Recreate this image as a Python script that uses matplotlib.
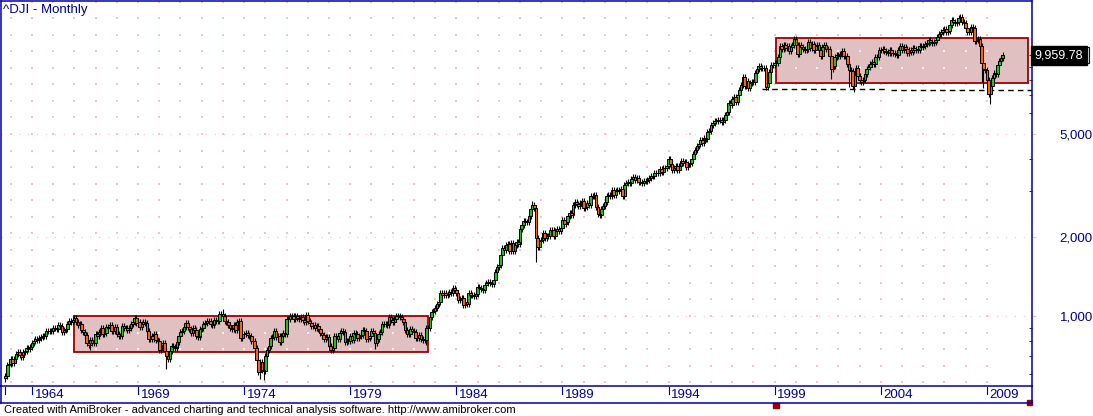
import numpy as np
import pandas as pd
import matplotlib
matplotlib.use("Agg")
import matplotlib.pyplot as plt
import matplotlib.transforms as mtransforms
from matplotlib.patches import Rectangle
from matplotlib.lines import Line2D
from matplotlib.ticker import FixedLocator, NullFormatter

plt.rcParams['font.family'] = ['Liberation Sans', 'DejaVu Sans']

# ---- data: DJI monthly closes, Oct 1962 .. Oct 2009 ----
first_month = "1962-10"
first_open = 578.98
closes = [
	589.77, 649.30, 652.10,
	682.85, 662.94, 682.52, 717.70, 726.96, 706.88, 695.43, 729.32, 732.79, 755.23, 750.52, 762.95,
	785.34, 800.14, 813.29, 810.77, 820.56, 831.50, 841.10, 838.48, 875.37, 873.08, 875.43, 874.13,
	902.86, 903.48, 889.05, 922.31, 918.04, 868.03, 881.74, 893.10, 930.58, 960.82, 946.71, 969.26,
	983.51, 951.89, 924.77, 933.68, 884.07, 870.10, 847.38, 788.41, 774.22, 807.07, 791.59, 785.69,
	849.89, 839.37, 865.98, 897.05, 852.56, 860.26, 904.24, 901.29, 926.66, 879.74, 875.81, 905.11,
	855.47, 840.50, 840.67, 912.22, 899.00, 897.80, 883.00, 896.01, 935.79, 952.39, 985.08, 943.75,
	946.05, 905.21, 935.48, 950.18, 937.56, 873.19, 815.47, 836.72, 813.09, 855.99, 812.30, 800.36,
	744.06, 777.59, 785.57, 736.07, 700.44, 683.53, 734.12, 764.58, 760.68, 755.61, 794.09, 838.92,
	868.50, 878.83, 904.37, 941.75, 907.81, 891.14, 858.43, 898.07, 887.19, 839.00, 831.34, 890.20,
	902.17, 928.13, 940.70, 954.17, 960.72, 929.03, 924.74, 963.73, 953.27, 955.52, 1018.21, 1020.02,
	999.02, 955.07, 951.01, 921.43, 901.41, 891.71, 926.40, 887.57, 947.10, 956.58, 822.25, 850.86,
	855.55, 860.53, 846.68, 836.75, 802.17, 802.41, 757.43, 678.58, 607.87, 665.52, 618.66, 616.24,
	703.69, 739.05, 768.15, 821.34, 832.29, 878.99, 831.51, 835.34, 793.88, 836.04, 860.67, 852.41,
	975.28, 972.61, 999.45, 996.85, 975.23, 1002.78, 984.64, 973.74, 990.19, 964.93, 947.22, 1004.65,
	954.37, 936.42, 919.13, 926.90, 898.66, 916.30, 890.07, 861.49, 847.11, 818.35, 829.70, 831.17,
	769.92, 742.12, 757.36, 837.32, 840.61, 818.95, 862.27, 876.82, 865.82, 792.45, 799.03, 805.01,
	839.22, 808.82, 862.18, 854.90, 822.33, 841.98, 846.42, 887.63, 878.58, 815.70, 822.35, 838.74,
	875.85, 863.14, 785.75, 817.06, 850.85, 867.92, 935.32, 932.59, 932.42, 924.49, 993.34, 963.99,
	947.27, 974.58, 1003.87, 997.75, 991.75, 976.88, 952.34, 881.47, 849.98, 852.55, 888.98, 875.00,
	871.10, 824.39, 822.77, 848.36, 819.54, 811.93, 808.60, 901.31, 896.25, 991.72, 1039.28, 1046.54,
	1075.70, 1112.62, 1130.03, 1226.20, 1199.98, 1221.96, 1199.22, 1216.16, 1233.13, 1225.20, 1276.02, 1258.64,
	1220.58, 1154.63, 1164.89, 1170.75, 1104.85, 1132.40, 1115.28, 1224.38, 1206.71, 1207.38, 1188.94, 1211.57,
	1286.77, 1284.01, 1266.78, 1258.06, 1315.41, 1335.46, 1347.45, 1334.01, 1328.63, 1374.31, 1472.13, 1546.67,
	1570.99, 1709.06, 1818.61, 1783.98, 1876.71, 1892.72, 1775.31, 1898.34, 1767.58, 1877.81, 1914.23, 1895.95,
	2158.04, 2223.99, 2304.69, 2286.36, 2291.57, 2418.53, 2572.07, 2662.95, 2596.28, 1993.53, 1833.55, 1938.83,
	1958.22, 2071.62, 1988.06, 2032.33, 2031.12, 2141.71, 2128.73, 2031.65, 2112.91, 2148.65, 2114.51, 2168.57,
	2342.32, 2258.39, 2293.62, 2418.80, 2480.15, 2440.06, 2660.66, 2737.27, 2692.82, 2645.08, 2706.27, 2753.20,
	2590.54, 2627.25, 2707.21, 2656.76, 2876.66, 2880.69, 2905.20, 2614.36, 2452.48, 2442.33, 2559.65, 2633.66,
	2736.39, 2882.18, 2913.86, 2887.87, 3027.50, 2906.75, 3024.82, 3043.60, 3016.77, 3069.10, 2894.68, 3168.83,
	3223.39, 3267.67, 3235.47, 3359.12, 3396.88, 3318.52, 3393.78, 3257.35, 3271.66, 3226.28, 3305.16, 3301.11,
	3310.03, 3370.81, 3435.11, 3427.55, 3527.43, 3516.08, 3539.47, 3651.25, 3555.12, 3680.59, 3683.95, 3754.09,
	3978.36, 3832.02, 3635.96, 3681.69, 3758.37, 3624.96, 3764.50, 3913.42, 3843.19, 3908.12, 3739.23, 3834.44,
	3843.86, 4011.05, 4157.69, 4321.27, 4465.14, 4556.10, 4708.47, 4610.56, 4789.08, 4755.48, 5074.49, 5117.12,
	5395.30, 5485.62, 5587.14, 5569.08, 5643.18, 5654.63, 5528.91, 5616.21, 5882.17, 6029.38, 6521.70, 6448.27,
	6813.09, 6877.74, 6583.48, 7008.99, 7331.04, 7672.79, 8222.61, 7622.42, 7945.26, 7442.08, 7823.13, 7908.25,
	7906.50, 8545.72, 8799.81, 9063.37, 8899.95, 8952.02, 8883.29, 7539.07, 7842.62, 8592.10, 9116.55, 9181.43,
	9358.83, 9306.58, 9786.16, 10789.04, 10559.74, 10970.80, 10655.15, 10829.28, 10336.95, 10729.94, 10877.81, 11497.12,
	10940.53, 10128.31, 10921.92, 10733.91, 10522.33, 10447.89, 10521.98, 11215.10, 10650.92, 10971.14, 10414.49, 10786.85,
	10887.36, 10495.28, 9878.78, 10734.97, 10911.94, 10502.40, 10522.81, 9949.75, 8847.56, 9075.14, 9851.56, 10021.50,
	9920.00, 10106.13, 10403.94, 9946.22, 9925.25, 9243.26, 8736.59, 8663.50, 7591.93, 8397.03, 8896.09, 8341.63,
	8053.81, 7891.08, 7992.13, 8480.09, 8850.26, 8985.44, 9233.80, 9415.82, 9275.06, 9801.12, 9782.46, 10453.92,
	10488.07, 10583.92, 10357.70, 10225.57, 10188.45, 10435.48, 10139.71, 10173.92, 10080.27, 10027.47, 10428.02, 10783.01,
	10489.94, 10766.23, 10503.76, 10192.51, 10467.48, 10274.97, 10640.91, 10481.60, 10568.70, 10440.07, 10805.87, 10717.50,
	10864.86, 10993.41, 11109.32, 11367.14, 11168.31, 11150.22, 11185.68, 11381.15, 11679.07, 12080.73, 12221.93, 12463.15,
	12621.69, 12268.63, 12354.35, 13062.91, 13627.64, 13408.62, 13211.99, 13357.74, 13895.63, 13930.01, 13371.72, 13264.82,
	12650.36, 12266.39, 12262.89, 12820.13, 12638.32, 11350.01, 11378.02, 11543.55, 10850.66, 9325.01, 8829.04, 8776.39,
	8000.86, 7062.93, 7608.92, 8168.12, 8500.33, 8447.00, 9171.61, 9496.28, 9712.28, 9959.78,
]

# notable intramonth extremes (high, low)
wicks = {
	"1962-10": (598, 558), "1966-01": (1001, 975), "1966-10": (812, 744),
	"1970-05": (735, 627), "1973-01": (1067, 985), "1974-10": (674, 573),
	"1974-12": (620, 570), "1978-02": (772, 738), "1980-03": (866, 750),
	"1982-08": (902, 777), "1987-08": (2747, 2590), "1987-10": (2641, 1616),
	"1990-10": (2520, 2365), "1998-08": (8890, 7400), "2001-09": (10000, 8062),
	"2002-07": (9379, 7532), "2002-10": (8538, 7197), "2007-10": (14198, 13500),
	"2008-10": (10983, 7882), "2008-11": (9654, 7449), "2009-03": (7925, 6470),
}

year_labels = [1964, 1969, 1974, 1979, 1984, 1989, 1994, 1999, 2004, 2009]

# trading ranges (shaded boxes)
box_start = ["1966-01", "1999-02"]
box_end = ["1982-09", "2010-12"]
box_top = [1000, 11590]
box_bottom = [726, 7812]

# support lines (dashed)
sup_start = ["1998-06", "2004-07"]
sup_end = ["2004-04", "2011-06"]
sup_level = [7390, 7325]

last_label = "9,959.78"

# ---- helpers ----
NAVY = "#00008c"
LINE = "#0000a0"
W, H = 1093, 416
PX_DECADE = 261      # vertical pixels per decade on the log axis
WICK_PX = 3.0        # drawn wick stub length beyond the body, pixels
p0 = pd.Period(first_month, freq="M")

def idx(m):
	return (pd.Period(m, freq="M") - p0).n

def fx(x):
	return x / W

def fy(y):
	return 1 - y / H

closes = np.array(closes)
opens = np.concatenate([[first_open], closes[:-1]])
n = len(closes)
xs = np.arange(n)
months = pd.period_range(first_month, periods=n, freq="M")

stub = 10 ** (WICK_PX / PX_DECADE)
top = np.maximum(opens, closes) * stub
low = np.minimum(opens, closes) / stub
for i, m in enumerate(months):
	if str(m) in wicks:
		hi, lo = wicks[str(m)]
		top[i] = max(top[i], hi)
		low[i] = min(low[i], lo)

fig = plt.figure(figsize=(W / 100, H / 100), dpi=100)
ax = fig.add_axes([fx(1), fy(386), fx(1031), (386 - 1) / H])
ax.set_yscale("log")
ax.set_xlim(-2.5, 580.5)
ax.set_ylim(539.4, 16103)

# dot grid
jan = np.array([i for i, m in enumerate(months) if m.month == 1])
rows = 1000 * 10 ** (np.arange(-5, 21) * 0.06339)
gx, gy = np.meshgrid(jan, rows)
gx, gy = gx.ravel(), gy.ravel()
inside = np.zeros(gx.shape, bool)
on_edge = np.zeros(gx.shape, bool)
for s, e, t, b in zip(box_start, box_end, box_top, box_bottom):
	inside |= (gx > idx(s)) & (gx < idx(e)) & (gy < t * 0.99) & (gy > b * 1.01)
	on_edge |= (gx >= idx(s)) & (gx <= idx(e)) & (gy <= t * 1.01) & (gy >= b * 0.99)
outside = ~on_edge
ax.scatter(gx[outside], gy[outside], s=0.7, marker="s", color="#f0c4c4", linewidths=0, zorder=1)
ax.scatter(gx[inside], gy[inside], s=0.7, marker="s", color="#fbeeee", linewidths=0, zorder=1.6)
for v in [1000, 2000, 5000]:
	ax.axhline(v, color="#ffbcbc", lw=0.8, ls=(0, (1, 7)), zorder=1)

# range boxes
for s, e, t, b in zip(box_start, box_end, box_top, box_bottom):
	ax.add_patch(Rectangle((idx(s), b), idx(e) - idx(s), t - b, facecolor="#e0c0c0",
		edgecolor="#a00000", lw=1.3, zorder=1.5))

# support lines
for s, e, v in zip(sup_start, sup_end, sup_level):
	ax.hlines(v, idx(s), idx(e), colors="black", lw=1.0, linestyles=(0, (4, 3)), zorder=2)

# candles
ax.vlines(xs, low, top, colors="black", lw=0.8, zorder=2.5)
up = closes >= opens
bot = np.minimum(opens, closes)
hgt = np.abs(closes - opens)
ax.bar(xs[up], hgt[up], bottom=bot[up], width=1.5, color="#20c020", edgecolor="black", lw=0.7, zorder=3)
ax.bar(xs[~up], hgt[~up], bottom=bot[~up], width=1.5, color="#ff6010", edgecolor="black", lw=0.7, zorder=3)

# axes styling
for sp in ax.spines.values():
	sp.set_color(LINE)
	sp.set_linewidth(1.1)
ax.set_xticks([])
ax.yaxis.tick_right()
ax.yaxis.set_major_locator(FixedLocator([1000, 2000, 5000]))
ax.yaxis.set_minor_locator(FixedLocator([600, 700, 800, 900, 3000, 4000, 6000, 7000, 8000, 9000, 10000]))
ax.yaxis.set_minor_formatter(NullFormatter())
ax.set_yticklabels(["1,000", "2,000", "5,000"])
ax.tick_params(axis="y", which="major", length=3, color="#ffbcbc", pad=17, labelsize=9.5, labelcolor=NAVY)
ax.tick_params(axis="y", which="minor", length=2, direction="in", color=LINE)

# last price label
bt = mtransforms.blended_transform_factory(ax.transAxes, ax.transData)
ax.annotate(last_label, xy=(1, closes[-1]), xycoords=bt, xytext=(2.0, 0), textcoords="offset points",
	ha="left", va="center", color="white", fontsize=9,
	bbox=dict(boxstyle="square,pad=0.3", fc="black", ec="black"), annotation_clip=False)
ax.add_patch(Rectangle((1084 / 1031, closes[-1] * 10 ** (-8 / PX_DECADE)), 4 / 1031,
	closes[-1] * (10 ** (8 / PX_DECADE) - 10 ** (-8 / PX_DECADE)), transform=bt, fill=False,
	edgecolor=LINE, lw=0.8, clip_on=False))

# date strip below the chart
fig.add_artist(Line2D([fx(0), fx(1032)], [fy(403), fy(403)], color=LINE, lw=1.1))
fig.add_artist(Line2D([fx(1), fx(1)], [fy(386), fy(403)], color=LINE, lw=1.1))
fig.add_artist(Line2D([fx(1032), fx(1032)], [fy(386), fy(403)], color=LINE, lw=1.1))
dt = mtransforms.blended_transform_factory(ax.transData, fig.transFigure)
fig.add_artist(Line2D([0, 0], [fy(387), fy(394)], transform=dt, color=LINE, lw=0.8))
for yr in year_labels:
	i = idx(f"{yr}-01")
	fig.add_artist(Line2D([i, i], [fy(387), fy(394)], transform=dt, color=LINE, lw=0.8))
	fig.text(i + 1.5, fy(395), str(yr), transform=dt, fontsize=9.5, color=NAVY, va="center", ha="left")

# range markers
for s, e in zip(box_start[1:], box_end[1:]):
	fig.add_artist(Rectangle((idx(s) - 1.7, fy(408)), 3.4, 5 / H, transform=dt, color="#a00000"))
	fig.add_artist(Rectangle((idx(e) - 0.3, fy(405)), 3.0, 5 / H, transform=dt, color="#a00000"))

fig.text(fx(3), fy(10), "^DJI - Monthly", fontsize=9.5, color=NAVY, va="center", ha="left")
fig.text(fx(4), fy(410), "Created with AmiBroker - advanced charting and technical analysis software. http://www.amibroker.com",
	fontsize=8, color="black", va="center", ha="left")

fig.savefig("out.png", dpi=100)
